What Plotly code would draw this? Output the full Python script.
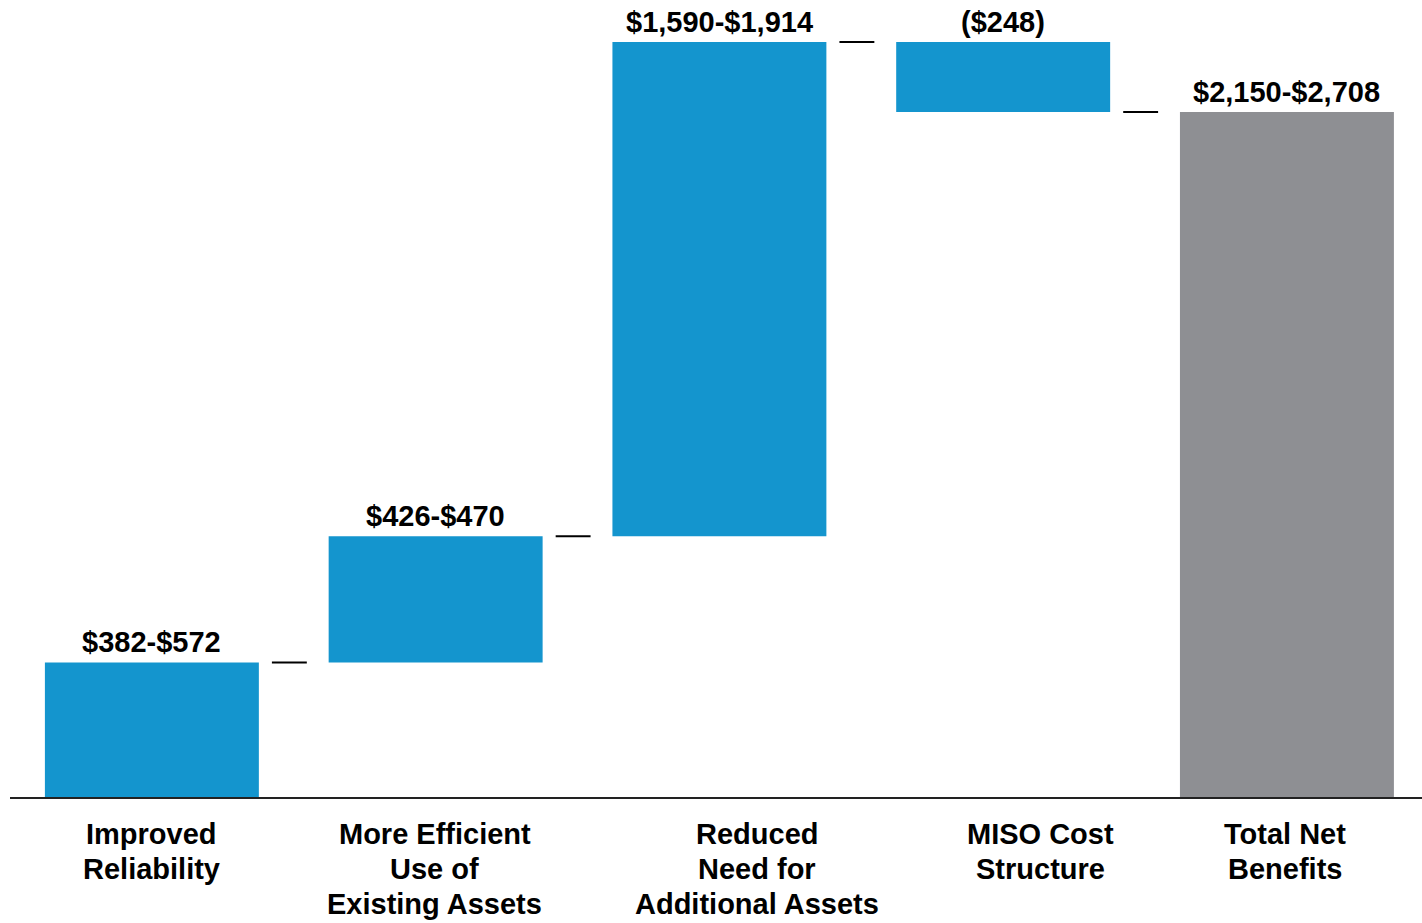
import plotly.graph_objects as go

# ---- data (bar heights are range midpoints, $M) ----
categories = ["Improved<br>Reliability",
              "More Efficient<br>Use of<br>Existing Assets",
              "Reduced<br>Need for<br>Additional Assets",
              "MISO Cost<br>Structure",
              "Total Net<br>Benefits"]
step_values = [477, 448, 1752, -248]
range_labels = ["$382-$572", "$426-$470", "$1,590-$1,914", "($248)", "$2,150-$2,708"]

# ---- styles ----
BLUE = "#1495CE"
GRAY = "#8E8F93"
FONT = "Liberation Sans, Arial, sans-serif"
label_xshift = [0, -1, 38, 37, -2]
LINE_STEP = 35

total = sum(step_values)
values = step_values + [total]
measures = ["relative"] * len(step_values) + ["total"]
xs = list(range(len(values)))

# cumulative bar ends
starts, ends = [], []
run = 0
for v in step_values:
    starts.append(run)
    run += v
    ends.append(run)
starts.append(0)
ends.append(total)
tops = [max(s, e) for s, e in zip(starts, ends)]

fig = go.Figure()
fig.add_trace(go.Waterfall(
    x=xs, y=values, measure=measures,
    width=0.754,
    increasing=dict(marker=dict(color=BLUE)),
    decreasing=dict(marker=dict(color=BLUE)),
    totals=dict(marker=dict(color=GRAY)),
    connector=dict(visible=False),
    hoverinfo="skip",
))

# short connector dashes between bars
cx, cy = [], []
for i in range(len(step_values)):
    cx += [i + 0.423, i + 0.546, None]
    cy += [ends[i], ends[i], None]
fig.add_trace(go.Scatter(x=cx, y=cy, mode="lines",
                         line=dict(color="black", width=2),
                         hoverinfo="skip"))

annotations = []
for i, (t, lab) in enumerate(zip(tops, range_labels)):
    annotations.append(dict(x=i, y=t, xref="x", yref="y", text=lab,
                            showarrow=False, yanchor="bottom", xanchor="center",
                            yshift=2,
                            font=dict(family=FONT, size=29, color="black", weight="bold")))
for i, cat in enumerate(categories):
    for k, line in enumerate(cat.split("<br>")):
        annotations.append(dict(x=i, y=0, xref="x", yref="y", text=line,
                                showarrow=False, yanchor="top", xanchor="center",
                                yshift=-19 - LINE_STEP * k, xshift=label_xshift[i],
                                font=dict(family=FONT, size=29, color="black", weight="bold")))

fig.update_layout(
    width=1422, height=923,
    margin=dict(l=10, r=0, t=0, b=126),
    paper_bgcolor="white", plot_bgcolor="white",
    showlegend=False,
    annotations=annotations,
    xaxis=dict(range=[-0.5, 4.476], showgrid=False, zeroline=False,
               showticklabels=False, ticks="",
               showline=True, linecolor="#222222", linewidth=2),
    yaxis=dict(range=[0, 2826], showgrid=False, zeroline=False,
               showticklabels=False, ticks="", showline=False),
)

fig.write_html("out.html")
